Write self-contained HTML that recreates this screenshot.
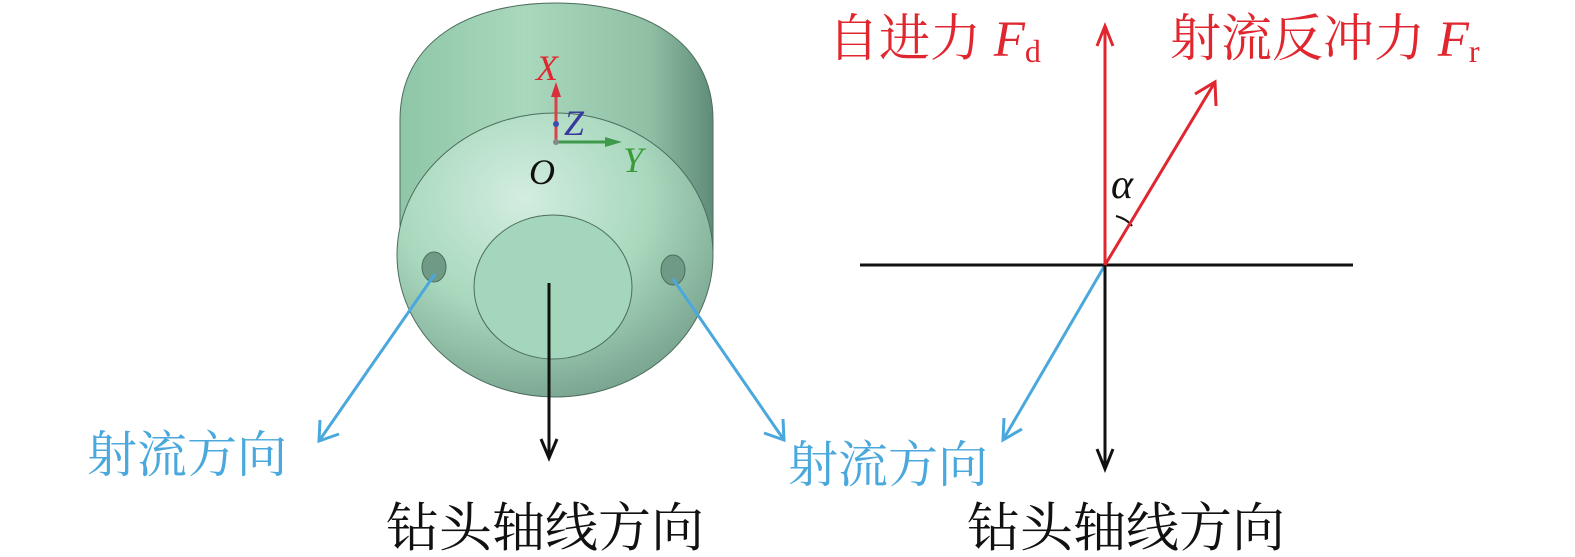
<!DOCTYPE html>
<html><head><meta charset="utf-8"><style>
body{margin:0;background:#fff;width:1575px;height:557px;overflow:hidden}
svg{display:block}
.cn{font-family:"Liberation Serif","Noto Serif CJK SC",serif}
.it{font-family:"Liberation Serif",serif;font-style:italic}
</style></head><body>
<svg width="1575" height="557" viewBox="0 0 1575 557" xmlns="http://www.w3.org/2000/svg">
<defs>
<linearGradient id="g1" x1="0" x2="1" y1="0" y2="0">
<stop offset="0" stop-color="#8fc6a8"/><stop offset="0.4" stop-color="#a9d8bd"/><stop offset="0.8" stop-color="#8fbfa4"/><stop offset="1" stop-color="#5f8c78"/></linearGradient>
<radialGradient id="g2" cx="0.4" cy="0.3" r="0.8">
<stop offset="0" stop-color="#d3ede0"/><stop offset="0.5" stop-color="#a8d8bd"/><stop offset="1" stop-color="#6f9986"/></radialGradient>
</defs>
<path d="M400,250 L400,120 C400,40 470,3 556,3 C642,3 713,40 713,120 L713,250 Z" fill="url(#g1)" stroke="#4d6d5e" stroke-width="1"/>
<ellipse cx="555" cy="255" rx="158" ry="142" fill="url(#g2)" stroke="#4d6d5e" stroke-width="1"/>
<ellipse cx="553" cy="287" rx="79" ry="72" fill="#a3d6ba" stroke="#4d6d5e" stroke-width="1"/>
<ellipse cx="434" cy="267" rx="12" ry="15" fill="#6f9a86" stroke="#4d6d5e"/>
<ellipse cx="673" cy="270" rx="12" ry="15" fill="#6f9a86" stroke="#4d6d5e"/>
<line x1="556" y1="142" x2="556" y2="92" stroke="#d8424a" stroke-width="3"/>
<polygon points="556,82 551,97 561,97" fill="#d8303a"/>
<line x1="556" y1="142" x2="610" y2="142" stroke="#3e9a4a" stroke-width="3"/>
<polygon points="622,142 605,137 605,147" fill="#3e9a4a"/>
<circle cx="556" cy="124" r="3" fill="#3b4fb0"/>
<circle cx="556" cy="142" r="3" fill="#888"/>
<text x="536" y="80" class="it" font-size="36" fill="#e0262e">X</text>
<text x="564" y="135" class="it" font-size="36" fill="#3a3a9e">Z</text>
<text x="623" y="172" class="it" font-size="36" fill="#3a9a3a">Y</text>
<text x="529" y="184" class="it" font-size="36" fill="#111">O</text>
<g stroke="#4aa8dc" stroke-width="3" fill="none">
<line x1="435" y1="274" x2="319" y2="441"/><polyline points="320,420 319,441 339,434"/>
<line x1="673" y1="279" x2="784" y2="440"/><polyline points="764,433 784,440 783,419"/>
<line x1="1105" y1="265" x2="1003" y2="440"/><polyline points="1004,418 1003,440 1022,429"/>
</g>
<g stroke="#111" stroke-width="3" fill="none">
<line x1="549" y1="283" x2="549" y2="457"/><polyline points="541,439 549,458 557,439"/>
<line x1="1105" y1="265" x2="1105" y2="468"/><polyline points="1097,449 1105,469 1113,449"/>
<line x1="860" y1="265" x2="1353" y2="265"/>
<path d="M1116,216 Q1127,219 1132,226" stroke-width="2"/>
</g>
<g stroke="#e0262e" stroke-width="3" fill="none">
<line x1="1105" y1="265" x2="1105" y2="27"/><polyline points="1097,46 1105,26 1113,46"/>
<line x1="1105" y1="265" x2="1215" y2="82"/><polyline points="1195,94 1215,82 1216,106"/>
</g>
<text x="87" y="472" class="cn" font-size="50" fill="#4aa8dc">射流方向</text>
<text x="788" y="482" class="cn" font-size="50" fill="#4aa8dc">射流方向</text>
<text x="386" y="546" class="cn" font-size="53" fill="#111">钻头轴线方向</text>
<text x="967" y="546" class="cn" font-size="53" fill="#111">钻头轴线方向</text>
<text x="828" y="56" class="cn" font-size="51" fill="#e0262e">自进力 <tspan class="it">F</tspan><tspan font-size="32" dy="6">d</tspan></text>
<text x="1170" y="56" class="cn" font-size="51" fill="#e0262e">射流反冲力 <tspan class="it">F</tspan><tspan font-size="32" dy="6">r</tspan></text>
<text x="1111" y="198" class="it" font-size="42" fill="#111">α</text>
</svg>
</body></html>
